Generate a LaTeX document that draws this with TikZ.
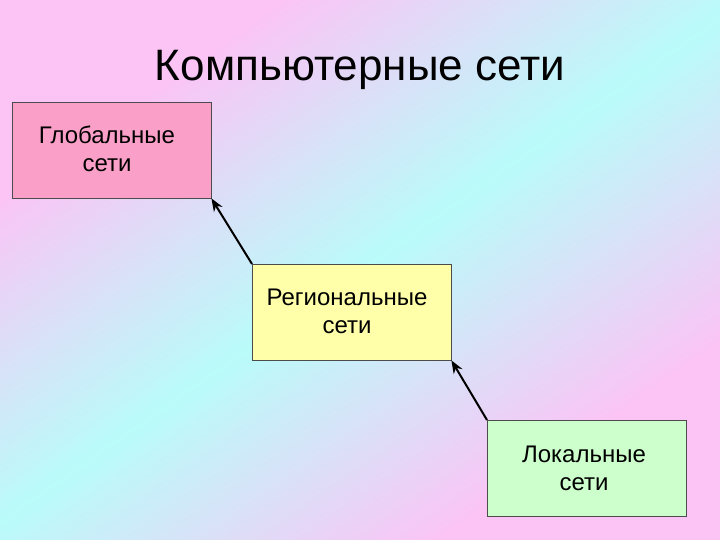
\documentclass[tikz,border=0pt]{standalone}
\usepackage{fontspec}
\setmainfont{Liberation Sans}
\usetikzlibrary{arrows.meta}
\definecolor{bgpink}{RGB}{252,195,245}
\definecolor{bgcyan}{RGB}{185,252,250}
\definecolor{gpink}{RGB}{250,160,200}
\definecolor{ryel}{RGB}{255,255,170}
\definecolor{lgreen}{RGB}{204,255,204}
\pgfdeclarehorizontalshading{bgshade}{100bp}{color(0bp)=(bgpink); color(28bp)=(bgpink); color(50bp)=(bgcyan); color(72bp)=(bgpink); color(100bp)=(bgpink)}
\tikzset{
  box/.style={draw=black!70, minimum width=199pt, minimum height=96pt, inner sep=0pt, anchor=north west},
  lbl/.style={font=\fontsize{24}{28}\selectfont, align=center},
  conn/.style={line width=2pt, -{Stealth[length=13pt,width=10pt]}}
}
\begin{document}
\begin{tikzpicture}[x=1pt,y=1pt]
\shade[shading=bgshade, shading angle=-55] (0,-540) rectangle (720,0);
\useasboundingbox (0,-540) rectangle (720,0);
\begin{scope}[y=-1pt]
\node[font=\fontsize{44}{48}\selectfont] (title) at (360,70) {Компьютерные сети};
\node[box, fill=gpink] (g) at (12,102) {};
\node[box, fill=ryel] (r) at (252,264) {};
\node[box, fill=lgreen] (l) at (487,420) {};
\node[lbl] (gt) at (107,149) {Глобальные\\сети};
\node[lbl] (rt) at (347,311) {Региональные\\сети};
\node[lbl] (lt) at (584,468) {Локальные\\сети};
\draw[conn] (r.north west) -- (g.south east);
\draw[conn] (l.north west) -- (r.south east);
\end{scope}
\end{tikzpicture}
\end{document}
